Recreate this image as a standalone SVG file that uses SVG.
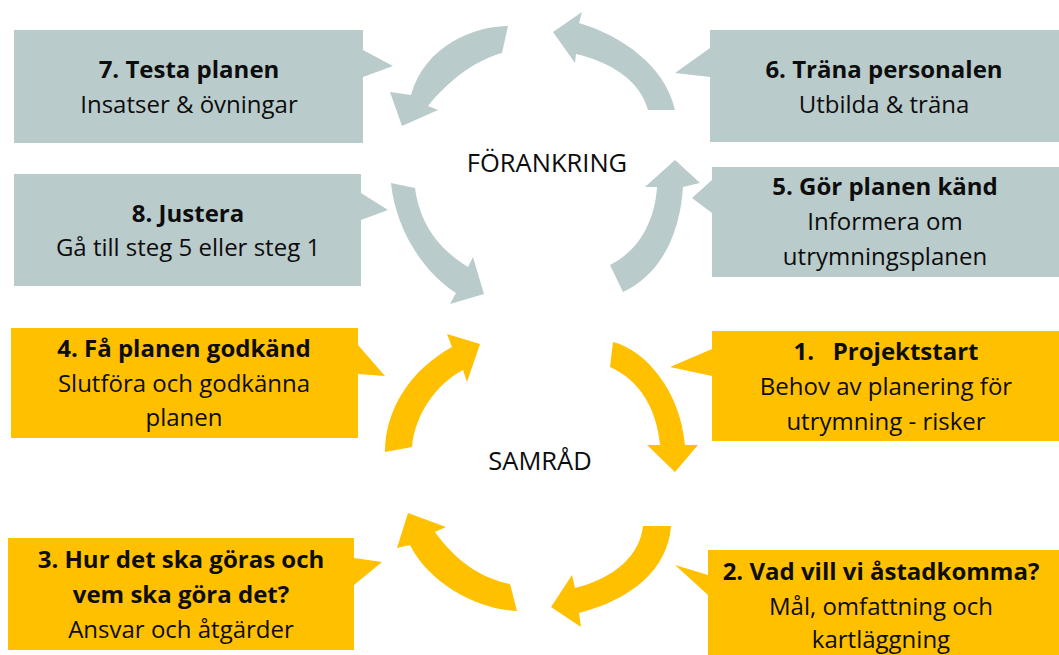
<svg xmlns="http://www.w3.org/2000/svg" width="1059" height="655" viewBox="0 0 1059 655">
<style>
.g{fill:#BACBCB}
.y{fill:#FFC000}
text{font-family:"Open Sans","Liberation Sans",sans-serif;font-size:24px;fill:#0D0D0D;text-anchor:middle}
.b{font-weight:bold}
.c{font-size:25.5px}
</style>
<rect width="1059" height="655" fill="#FFFFFF"/>
<g id="connectors">
<path class="g" d="M508,26 C475,26 425,45 411,95 L390,92 L402,126 L438,110 L428,106 C445,85 470,62 502,53 Z"/>
<path class="g" d="M553,32 L582,12 L579,23 C620,35 665,65 675,110 L648,110 C640,80 610,62 576,54 L575,63 Z"/>
<path class="g" d="M391,183 C395,225 420,270 456,293 L450,304 L484,294 L473,257 L468,267 C440,250 420,225 415,188 Z"/>
<path class="g" d="M610,265 C640,250 655,220 657,187 L645,187 L675,160 L700,183 L683,187 C680,235 660,275 623,292 Z"/>
<path class="y" d="M385,452 C385,410 410,370 452,347 L447,334 L480,344 L467,382 L463,370 C435,385 415,415 412,447 Z"/>
<path class="y" d="M613,342 C645,350 680,390 685,445 L698,445 L675,472 L647,445 L660,445 C657,410 640,380 610,367 Z"/>
<path class="y" d="M517,611 C480,610 430,585 410,545 L397,548 L408,513 L446,527 L435,532 C455,560 480,578 510,584 Z"/>
<path class="y" d="M643,526 C640,555 615,578 575,588 L572,575 L551,607 L581,627 L579,613 C630,600 668,570 671,526 Z"/>
</g>
<g id="label-forankring"><text class="c" x="547" y="172">FÖRANKRING</text></g>
<g id="label-samrad"><text class="c" x="540" y="470">SAMRÅD</text></g>
<g id="node7">
<path class="g" d="M14,30 H363 V50 L393,66 L363,77 V143 H14 Z"/>
<text class="b" x="189" y="78">7. Testa planen</text>
<text x="189" y="113">Insatser &amp; övningar</text>
</g>
<g id="node8">
<path class="g" d="M14,174 H361 V193 L388,210 L361,220 V286 H14 Z"/>
<text class="b" x="188" y="222">8. Justera</text>
<text x="188" y="256">Gå till steg 5 eller steg 1</text>
</g>
<g id="node6">
<path class="g" d="M710,30 H1059 V142 H710 V77 L675,73 L710,48 Z"/>
<text class="b" x="884" y="78">6. Träna personalen</text>
<text x="884" y="113">Utbilda &amp; träna</text>
</g>
<g id="node5">
<path class="g" d="M712,167 H1059 V277 H712 V213 L692,198 L712,180 Z"/>
<text class="b" x="885" y="195">5. Gör planen känd</text>
<text x="885" y="230">Informera om</text>
<text x="885" y="265">utrymningsplanen</text>
</g>
<g id="node4">
<path class="y" d="M11,328 H358 V345 L385,376 L358,374 V438 H11 Z"/>
<text class="b" x="184" y="357">4. Få planen godkänd</text>
<text x="184" y="392">Slutföra och godkänna</text>
<text x="184" y="426">planen</text>
</g>
<g id="node3">
<path class="y" d="M8,538 H354 V558 L382,562 L354,585 V650 H8 Z"/>
<text class="b" x="181" y="568">3. Hur det ska göras och</text>
<text class="b" x="181" y="603">vem ska göra det?</text>
<text x="181" y="638">Ansvar och åtgärder</text>
</g>
<g id="node1">
<path class="y" d="M712,331 H1059 V441 H712 V376 L670,367 L712,349 Z"/>
<text class="b" x="886" y="360" xml:space="preserve">1.   Projektstart</text>
<text x="886" y="395">Behov av planering för</text>
<text x="886" y="430">utrymning - risker</text>
</g>
<g id="node2">
<path class="y" d="M708,550 H1059 V655 H708 V595 L675,565 L708,575 Z"/>
<text class="b" x="881" y="580">2. Vad vill vi åstadkomma?</text>
<text x="881" y="615">Mål, omfattning och</text>
<text x="881" y="648">kartläggning</text>
</g>
</svg>
